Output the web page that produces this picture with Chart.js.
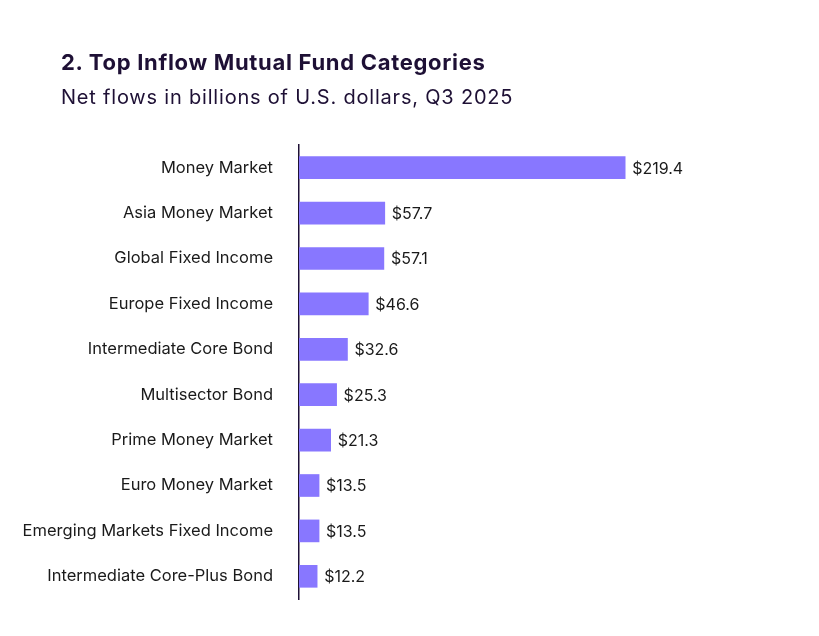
<!DOCTYPE html>
<html>
<head>
<meta charset="utf-8">
<script src="https://cdn.jsdelivr.net/npm/chart.js@4"></script>
<style>
  html, body { margin: 0; padding: 0; background: #fff; }
  #wrap { position: relative; width: 819px; height: 636px; }
  #title { position: absolute; left: 61px; top: 49px; font: 700 22px Inter, sans-serif; color: #1e1035; letter-spacing: 0.7px; }
  #subtitle { position: absolute; left: 61px; top: 85px; font: 400 20px Inter, sans-serif; color: #1e1035; letter-spacing: 0.8px; }
  canvas { position: absolute; left: 0; top: 0; }
</style>
</head>
<body>
<div id="wrap">
  <canvas id="chart" width="819" height="636"></canvas>
  <div id="title">2. Top Inflow Mutual Fund Categories</div>
  <div id="subtitle">Net flows in billions of U.S. dollars, Q3 2025</div>
</div>
<script>
const categories = [
  'Money Market',
  'Asia Money Market',
  'Global Fixed Income',
  'Europe Fixed Income',
  'Intermediate Core Bond',
  'Multisector Bond',
  'Prime Money Market',
  'Euro Money Market',
  'Emerging Markets Fixed Income',
  'Intermediate Core-Plus Bond'
];
const netFlows = [219.4, 57.7, 57.1, 46.6, 32.6, 25.3, 21.3, 13.5, 13.5, 12.2];

// draws "$x.x" just past the end of each bar
const valueLabels = {
  id: 'valueLabels',
  afterDatasetsDraw(chart) {
    const ctx = chart.ctx;
    const meta = chart.getDatasetMeta(0);
    ctx.save();
    ctx.font = '16px Inter, sans-serif';
    ctx.fillStyle = '#1a1a1a';
    ctx.textBaseline = 'middle';
    ctx.textAlign = 'left';
    meta.data.forEach((bar, i) => {
      ctx.fillText('$' + netFlows[i].toFixed(1), bar.x + 7, bar.y + 1);
    });
    ctx.restore();
  }
};

const ctx = document.getElementById('chart').getContext('2d');
new Chart(ctx, {
  type: 'bar',
  data: {
    labels: categories,
    datasets: [{
      data: netFlows,
      backgroundColor: '#8877ff',
      barThickness: 22
    }]
  },
  options: {
    indexAxis: 'y',
    responsive: false,
    animation: false,
    layout: { padding: { left: 0, right: 74, top: 145, bottom: 37 } },
    plugins: {
      legend: { display: false },
      tooltip: { enabled: false }
    },
    scales: {
      x: {
        display: false,
        min: 0,
        max: 300
      },
      y: {
        afterFit(scale) { scale.width = 299; },
        grid: { display: false, drawTicks: false },
        border: { display: true, color: '#1e1035', width: 1.5 },
        ticks: {
          padding: 26,
          color: '#1a1a1a',
          font: { family: 'Inter, sans-serif', size: 16.5 }
        }
      }
    }
  },
  plugins: [valueLabels]
});
</script>
</body>
</html>
